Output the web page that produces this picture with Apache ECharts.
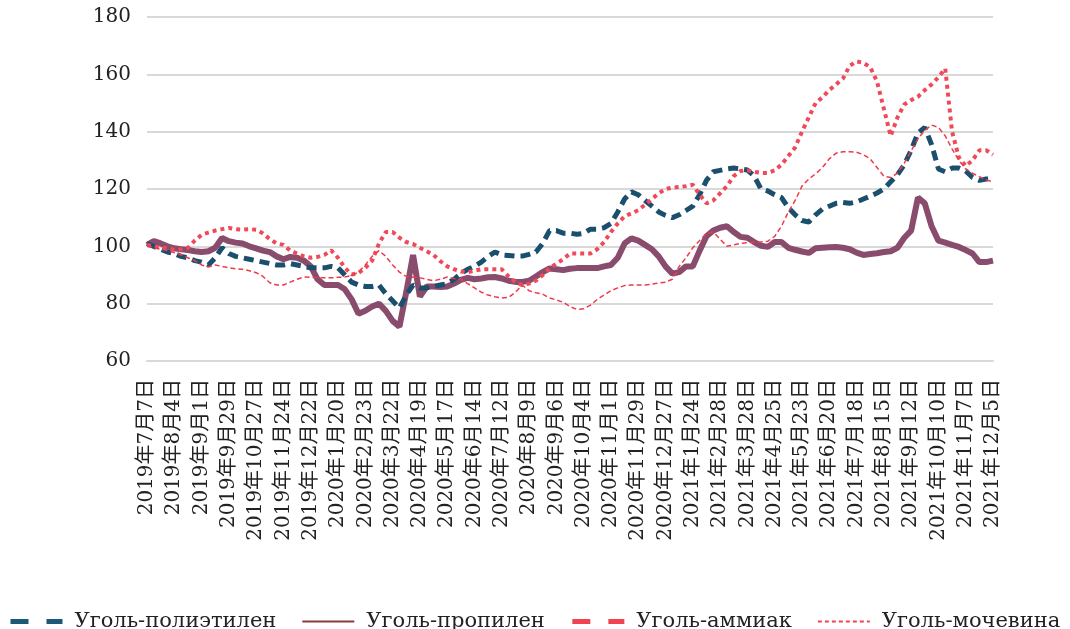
<!DOCTYPE html>
<html>
<head>
<meta charset="utf-8">
<script src="https://cdn.jsdelivr.net/npm/echarts@6/dist/echarts.min.js"></script>
<style>
  html, body { margin: 0; padding: 0; background: #fff; }
  #main { width: 1070px; height: 629px; }
</style>
</head>
<body>
<div id="main"></div>
<script>
// 日期（周度）
let dates = [
    '2019年7月7日', '2019年7月14日', '2019年7月21日', '2019年7月28日', '2019年8月4日', '2019年8月11日', '2019年8月18日', '2019年8月25日',
    '2019年9月1日', '2019年9月8日', '2019年9月15日', '2019年9月22日', '2019年9月29日', '2019年10月6日', '2019年10月13日', '2019年10月20日',
    '2019年10月27日', '2019年11月3日', '2019年11月10日', '2019年11月17日', '2019年11月24日', '2019年12月1日', '2019年12月8日', '2019年12月15日',
    '2019年12月22日', '2019年12月29日', '2020年1月5日', '2020年1月12日', '2020年1月20日', '2020年2月2日', '2020年2月9日', '2020年2月16日',
    '2020年2月23日', '2020年3月1日', '2020年3月8日', '2020年3月15日', '2020年3月22日', '2020年3月29日', '2020年4月5日', '2020年4月12日',
    '2020年4月19日', '2020年4月26日', '2020年5月3日', '2020年5月10日', '2020年5月17日', '2020年5月24日', '2020年5月31日', '2020年6月7日',
    '2020年6月14日', '2020年6月21日', '2020年6月28日', '2020年7月5日', '2020年7月12日', '2020年7月19日', '2020年7月26日', '2020年8月2日',
    '2020年8月9日', '2020年8月16日', '2020年8月23日', '2020年8月30日', '2020年9月6日', '2020年9月13日', '2020年9月20日', '2020年9月27日',
    '2020年10月4日', '2020年10月11日', '2020年10月18日', '2020年10月25日', '2020年11月1日', '2020年11月8日', '2020年11月15日', '2020年11月22日',
    '2020年11月29日', '2020年12月6日', '2020年12月13日', '2020年12月20日', '2020年12月27日', '2021年1月3日', '2021年1月10日', '2021年1月17日',
    '2021年1月24日', '2021年1月31日', '2021年2月7日', '2021年2月21日', '2021年2月28日', '2021年3月7日', '2021年3月14日', '2021年3月21日',
    '2021年3月28日', '2021年4月4日', '2021年4月11日', '2021年4月18日', '2021年4月25日', '2021年5月2日', '2021年5月9日', '2021年5月16日',
    '2021年5月23日', '2021年5月30日', '2021年6月6日', '2021年6月13日', '2021年6月20日', '2021年6月27日', '2021年7月4日', '2021年7月11日',
    '2021年7月18日', '2021年7月25日', '2021年8月1日', '2021年8月8日', '2021年8月15日', '2021年8月22日', '2021年8月29日', '2021年9月5日',
    '2021年9月12日', '2021年9月19日', '2021年9月26日', '2021年10月3日', '2021年10月10日', '2021年10月17日', '2021年10月24日', '2021年10月31日',
    '2021年11月7日', '2021年11月14日', '2021年11月21日', '2021年11月28日', '2021年12月5日'
]

// 煤制聚乙烯
let polyethylene = [
    101, 100, 99, 98, 97.5, 96.5, 96, 95, 94.5, 93.5, 96, 99.5, 97.5, 96.5, 96, 95.5,
    95, 94.5, 94, 93.5, 93.5, 94, 93.5, 93, 92.5, 92.5, 92.5, 93, 92.5, 90, 87.5, 86.5,
    86, 86, 86.5, 83.5, 81, 78.5, 83, 86.5, 85.5, 85.5, 86, 86.5, 87, 88.5, 90.5, 92,
    93, 94.5, 96.5, 98, 97, 96.8, 96.6, 96.6, 97.2, 98, 101, 105.5, 105.5, 104.6,
    104.6, 104.2, 104.5, 106, 106, 106.5, 108, 112, 116.5, 119, 118, 116, 114, 112,
    110.8, 110, 111, 112.5, 114, 118, 123, 126, 126.5, 127, 127.3, 127, 126.6, 124.5,
    120, 119.3, 118, 117, 113.5, 111, 109, 108.5, 111, 113, 114, 115, 115.3, 115,
    115.5, 116.5, 117.5, 118.6, 120, 122.5, 125, 128.5, 133.5, 139.5, 141.5, 135.5, 127, 126,
    127.3, 127.3, 126.3, 124, 123, 123.5, 123.5
]

// 煤制丙烯
let propylene = [
    100.5, 101.8, 101, 100, 99.3, 99, 98.7, 98.3, 98, 98.3, 99.5, 102.9, 101.8, 101.3, 101, 100,
    99.3, 98.5, 98, 96.5, 95.5, 96.3, 96, 95, 93, 88.5, 86.5, 86.5, 86.5, 85, 81.5, 76.5,
    77.5, 79, 80, 77.5, 74, 72, 84, 97, 82.5, 86, 86, 85.8, 86, 87, 88.3, 89,
    88.5, 88.8, 89.2, 89.3, 88.8, 88, 87.6, 87.6, 88, 89.5, 91, 92.3, 92, 91.7,
    92.2, 92.4, 92.4, 92.4, 92.4, 93, 93.5, 96, 101, 102.8, 102, 100.5, 99, 96.5,
    93, 90.5, 91, 93, 93, 98.5, 103.5, 105.5, 106.5, 107, 105, 103.3, 103, 101.5,
    100.2, 99.8, 101.5, 101.5, 99.5, 98.8, 98.2, 97.7, 99.3, 99.5, 99.7, 99.8, 99.5, 99,
    97.8, 97, 97.3, 97.6, 98, 98.3, 99.5, 103, 105.5, 117, 115, 107, 102, 101.3,
    100.5, 99.8, 98.7, 97.5, 94.5, 94.5, 95
]

// 煤制合成氨
let ammonia = [
    100.5, 100, 99.5, 99.3, 98.8, 99, 99.5, 102, 104, 104.8, 105.5, 106, 106.4, 106, 105.8, 106,
    105.8, 104.5, 102.5, 101, 100.5, 98.5, 97.5, 96.5, 96, 96.3, 97, 98.6, 96, 92.5, 90.2, 90.7,
    92.5, 95, 101, 105, 105, 103, 101.5, 100.8, 99.5, 98.3, 97, 94.8, 93, 92, 91.2, 91,
    91.5, 92, 92, 92, 92, 89.5, 87.5, 86.5, 87, 88, 90, 92.3, 94, 95.5,
    97.5, 97.5, 97.5, 97.5, 99, 101.5, 105, 108, 110.5, 111.5, 112.6, 114.5, 116.5, 118.5,
    120, 120.5, 120.7, 121, 121.5, 118, 115, 116, 118.5, 121, 124.5, 126.3, 126.5, 126,
    125.6, 125.6, 126.5, 128.5, 131.5, 134.5, 140, 145, 150, 152, 154.5, 156.5, 158.5, 163,
    164.5, 164, 162.5, 157.5, 148, 138.5, 145, 149.5, 151, 152.2, 154.5, 156.5, 159, 162,
    140, 131, 128, 130, 133.5, 133.5, 132
]

// 煤制尿素
let urea = [
    100.3, 99.5, 99, 98.5, 97.8, 97, 96, 95, 93.5, 92.8, 93.5, 93, 92.5, 92.2, 92, 91.5,
    90.8, 89.5, 87.3, 86.5, 86.5, 87.5, 88.5, 89.3, 89.2, 89, 89, 89, 89.2, 89.3, 89.8, 91,
    93.5, 96.5, 98.5, 96.5, 93.5, 91, 89.5, 89.2, 89, 88.5, 88, 88.5, 89.3, 88.8, 88.5, 87,
    85.5, 84, 83, 82.4, 82, 82.2, 84, 86.5, 84.5, 83.8, 83.3, 82, 81.3, 80.5,
    79, 78, 78.2, 79.5, 81.5, 83, 84.5, 85.5, 86.3, 86.5, 86.5, 86.5, 86.8, 87.2,
    87.5, 88.5, 93, 96, 99.5, 102, 104.5, 105, 102.5, 100, 100.5, 101, 101.3, 101.5,
    101.5, 101.8, 103.5, 107, 112, 116, 121, 123.5, 125.3, 127.5, 130.5, 132.5, 133, 133,
    132.8, 132, 130.5, 127.5, 124.5, 124, 125.5, 129, 133.3, 137.5, 140.5, 142.3, 141.5, 138.5,
    134, 130, 127, 125.5, 124.3, 123.2, 122.5
]

let names = ['Уголь-полиэтилен', 'Уголь-пропилен', 'Уголь-аммиак', 'Уголь-мочевина']

let myChart = echarts.init(document.getElementById('main'))
const option = {
    animation: false,
    textStyle: {
        fontFamily: '"DejaVu Serif", "Noto Sans CJK SC", serif',
        color: '#222'
    },
    grid: {
        left: 147,
        right: 77,
        top: 17,
        bottom: 268
    },
    legend: {
        left: 8,
        top: 611,
        padding: 0,
        itemWidth: 52,
        itemHeight: 20,
        itemGap: 25,
        textStyle: {
            fontSize: 21,
            color: '#222',
            padding: [0, 0, 0, 7],
            fontFamily: '"DejaVu Serif", serif'
        },
        data: [
            { name: names[0], itemStyle: { opacity: 0 }, lineStyle: { color: '#1c5878', width: 5, type: [18, 18] } },
            { name: names[1], itemStyle: { opacity: 0 }, lineStyle: { color: '#8b3a3a', width: 2, type: 'solid' } },
            { name: names[2], itemStyle: { opacity: 0 }, lineStyle: { color: '#ef4352', width: 5, type: [18, 18] } },
            { name: names[3], itemStyle: { opacity: 0 }, lineStyle: { color: '#ef4352', width: 2, type: [4, 3] } }
        ]
    },
    xAxis: {
        type: 'category',
        data: dates,
        boundaryGap: false,
        axisLine: { lineStyle: { color: '#d9d9d9', width: 2 } },
        axisTick: { show: false },
        axisLabel: {
            interval: 3,
            rotate: 90,
            margin: 18,
            fontSize: 20,
            color: '#222'
        }
    },
    yAxis: {
        type: 'value',
        min: 60,
        max: 180,
        interval: 20,
        axisLine: { show: false },
        axisTick: { show: false },
        axisLabel: {
            margin: 16,
            fontSize: 20,
            color: '#222'
        },
        splitLine: { lineStyle: { color: '#d9d9d9', width: 2 } }
    },
    series: [
        {
            name: names[1],
            type: 'line',
            data: propylene,
            symbol: 'none',
            z: 2,
            itemStyle: { color: '#8a4c6c' },
            lineStyle: { color: '#8a4c6c', width: 6 }
        },
        {
            name: names[0],
            type: 'line',
            data: polyethylene,
            symbol: 'none',
            z: 3,
            itemStyle: { color: '#1a4f6d' },
            lineStyle: { color: '#1a4f6d', width: 5, type: [10, 6] }
        },
        {
            name: names[2],
            type: 'line',
            data: ammonia,
            symbol: 'none',
            z: 4,
            itemStyle: { color: '#f04a5a' },
            lineStyle: { color: '#f04a5a', width: 4, type: [4, 4] }
        },
        {
            name: names[3],
            type: 'line',
            data: urea,
            symbol: 'none',
            z: 5,
            itemStyle: { color: '#f03a4c' },
            lineStyle: { color: '#f03a4c', width: 1.5, type: [5, 3] }
        }
    ]
}
myChart.setOption(option)
</script>
</body>
</html>
